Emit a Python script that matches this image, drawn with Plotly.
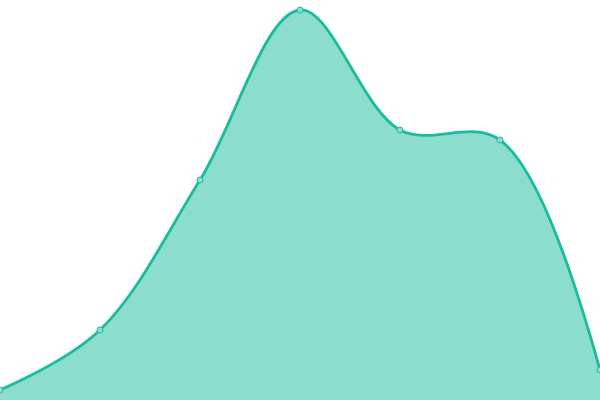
import plotly.graph_objects as go

x_vals = [0, 1, 2, 3, 4, 5, 6]
y_vals = [10, 70, 220, 390, 270, 260, 30]

line_color = "#1abc9c"
fill_color = "rgba(26,188,156,0.5)"

fig = go.Figure()
fig.add_trace(go.Scatter(
    x=x_vals,
    y=y_vals,
    mode="lines+markers",
    fill="tozeroy",
    fillcolor=fill_color,
    line=dict(color=line_color, width=2.8, shape="spline", smoothing=1),
    marker=dict(size=6, color="rgba(137,224,207,1)", line=dict(color=line_color, width=1)),
    showlegend=False,
))
fig.update_layout(
    width=600,
    height=400,
    margin=dict(l=0, r=0, t=0, b=0),
    paper_bgcolor="white",
    plot_bgcolor="white",
    xaxis=dict(visible=False, range=[0, 6]),
    yaxis=dict(visible=False, range=[0, 400]),
)
# drop the default body margin so the chart sits flush in the window
fig.write_html(
    "out.html",
    config={"displayModeBar": False},
    post_script="document.body.style.margin='0px';",
)
